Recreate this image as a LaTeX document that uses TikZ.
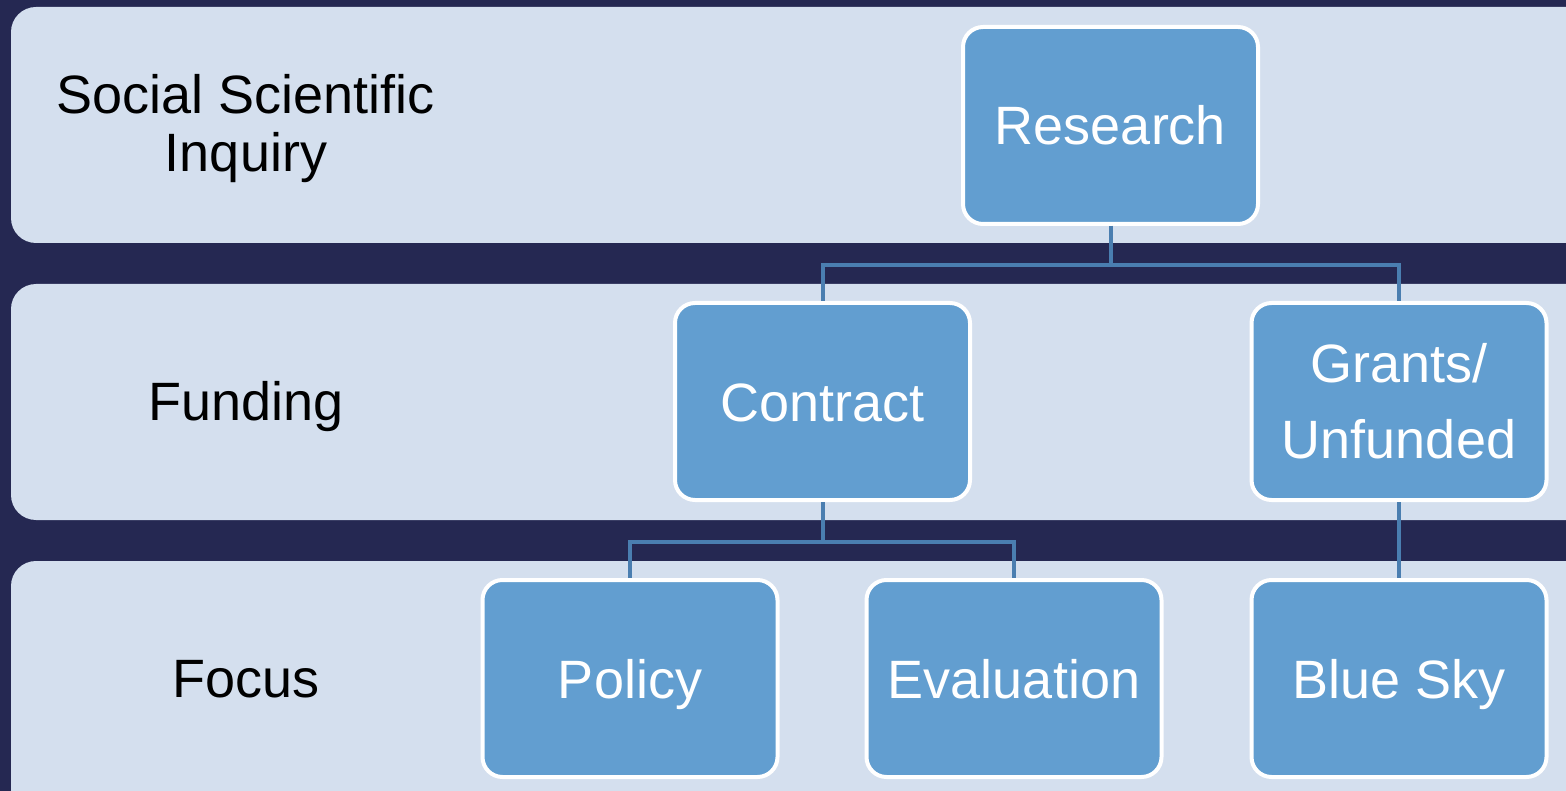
\documentclass[tikz,border=0pt]{standalone}
\usepackage{fontspec}
\setmainfont{Liberation Sans}
\definecolor{navy}{HTML}{252852}
\definecolor{band}{HTML}{D4DFEE}
\definecolor{boxblue}{HTML}{629ED0}
\definecolor{linkblue}{HTML}{4A7EB0}
\begin{document}
\begin{tikzpicture}[x=1pt,y=-1pt,
    bigfont/.style={font=\fontsize{54}{58}\selectfont},
    level/.style={bigfont,text=black,align=center},
    flat/.style={text height=39pt,text depth=0pt},
    box/.style={bigfont,draw=white,line width=4pt,fill=boxblue,text=white,rounded corners=20pt,
        minimum width=295pt,minimum height=197pt,inner sep=0pt},
    link/.style={draw=linkblue,line width=4pt}]
        \useasboundingbox (0,0) rectangle (1566,791);
        \clip (0,0) rectangle (1566,791);
        \fill [navy] (0,0) rectangle (1566,791);
        \fill [band, rounded corners=25pt] (11,7) rectangle (1620,243);
        \fill [band, rounded corners=25pt] (11,284) rectangle (1620,520);
        \fill [band, rounded corners=25pt] (11,561) rectangle (1620,840);
        \node [level] (inquiry) at (246,129) {Social Scientific\\Inquiry};
        \node [level, flat] (funding) at (246,401) {Funding};
        \node [level, flat] (focus) at (246,678) {Focus};
        \node [box, flat] (research) at (1110.5,125.5) {Research};
        \node [box, flat] (contract) at (822.5,401.5) {Contract};
        \node [box, align=center, font=\fontsize{54}{76}\selectfont] (grants) at (1399,401.5) {Grants/\\Unfunded};
        \node [box, flat] (policy) at (630,678.5) {Policy};
        \node [box, flat] (evaluation) at (1014,678.5) {Evaluation};
        \node [box, flat] (bluesky) at (1399,678.5) {Blue Sky};
        \draw [link] (research.south) -- ++(0,39) -| (contract.north);
        \draw [link] (research.south) -- ++(0,39) -| (grants.north);
        \draw [link] (contract.south) -- ++(0,40) -| (policy.north);
        \draw [link] (contract.south) -- ++(0,40) -| (evaluation.north);
        \draw [link] (grants.south) -- (bluesky.north);
\end{tikzpicture}
\end{document}
